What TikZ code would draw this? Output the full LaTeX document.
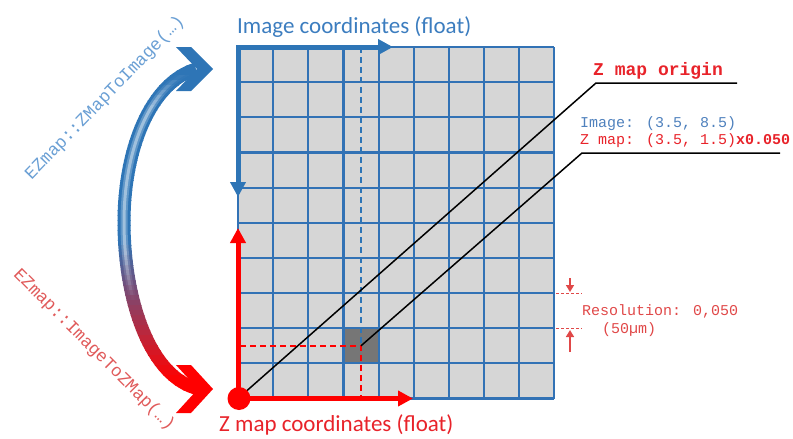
\documentclass[tikz,border=0pt]{standalone}
\usepackage{fontspec}
\setmainfont{Carlito}
\newfontfamily\monofont{Liberation Mono}
\usetikzlibrary{arrows.meta}
\definecolor{axblue}{HTML}{2E75B6}
\definecolor{gridblue}{HTML}{3272B5}
\definecolor{cellgray}{HTML}{D6D6D6}
\definecolor{darkcell}{HTML}{767676}
\definecolor{axred}{HTML}{FF0000}
\definecolor{txtred}{HTML}{E8232A}
\definecolor{lightred}{HTML}{E04848}
\definecolor{txtblue}{HTML}{3C7DBF}
\definecolor{codeblue}{HTML}{4F81BD}
\definecolor{rotblue}{HTML}{6A9FD4}
\definecolor{rotred}{HTML}{E05A5A}
\tikzset{
  gridline/.style={gridblue, line width=2.2pt},
  axisline/.style={line width=5pt, line join=miter, arrows={Triangle[width=15pt,length=15pt]-Triangle[width=15pt,length=15pt]}},
  leader/.style={black, line width=1.5pt},
  dashline/.style={line width=1.5pt, dash pattern=on 6pt off 4pt},
  bigtext/.style={inner sep=0pt, font=\fontsize{23}{26}\selectfont},
  codetext/.style={inner sep=0pt, font=\monofont\fontsize{15}{18}\selectfont},
  rottext/.style={inner sep=0pt, font=\monofont\fontsize{17.5}{20}\selectfont},
  smallarrow/.style={lightred, line width=1.6pt, -{Triangle[width=8pt,length=7pt]}}
}
\def\bandpath{(196,69) .. controls (150,83) and (124,150) .. (124,222) .. controls (124,300) and (150,378) .. (199,389)}
\begin{document}
\begin{tikzpicture}[x=1pt,y=-1pt]
\useasboundingbox (0,0) rectangle (793,439);
% grid
\fill[cellgray] (238,47) rectangle (554.35,398.5);
\fill[darkcell] (343.5,328.2) rectangle (378.6,363.35);
\foreach \gx in {238,273.2,308.3,343.5,378.6,413.8,448.9,484.0,519.2,554.35}
  \draw[gridline] (\gx,47) -- (\gx,398.5);
\foreach \gy in {47,82.15,117.3,152.45,187.6,222.75,257.9,293.05,328.2,363.35,398.5}
  \draw[gridline] (238,\gy) -- (554.35,\gy);
% key coordinates
\coordinate (O) at (238,398.5);
\coordinate (TL) at (238,47);
\coordinate (P) at (361,345.8);
\coordinate (Ptop) at (361,47);
\coordinate (Pbot) at (361,398.5);
\coordinate (Pleft) at (240,345.8);
\coordinate (k1) at (596,83);
\coordinate (k1e) at (737,83);
\coordinate (k2) at (582,153);
\coordinate (k2e) at (780,153);
\coordinate (bluex) at (393,47);
\coordinate (bluey) at (238,197);
\coordinate (redy) at (238,228);
\coordinate (redx) at (413,398.5);
% dashed guides
\draw[dashline, axblue] (Ptop) -- (P);
\draw[dashline, axred] (Pleft) -- (P) -- (Pbot);
% leaders
\draw[leader] (O) -- (k1) -- (k1e);
\draw[leader] (P) -- (k2) -- (k2e);
% axes
\draw[axisline, axblue] (bluex) -- (TL) -- (bluey);
\draw[axisline, axred] (redy) -- (O) -- (redx);
\fill[axred] (239,398.5) circle (11.5pt);
% resolution markers
\coordinate (r1a) at (556,293.05);
\coordinate (r1b) at (582,293.05);
\coordinate (r2a) at (556,328.2);
\coordinate (r2b) at (582,328.2);
\draw[lightred, line width=1pt, dash pattern=on 3pt off 2pt] (r1a) -- (r1b);
\draw[lightred, line width=1pt, dash pattern=on 3pt off 2pt] (r2a) -- (r2b);
\coordinate (da) at (570,278);
\coordinate (db) at (570,292);
\coordinate (ua) at (570,352);
\coordinate (ub) at (570,330);
\draw[smallarrow] (da) -- (db);
\draw[smallarrow] (ua) -- (ub);
% curved band
\foreach \i in {0,...,69}{
  \pgfmathsetmacro\ya{55+5*\i}
  \pgfmathsetmacro\yb{\ya+5.6}
  \pgfmathsetmacro\ym{\ya+2.5}
  \pgfmathsetmacro\pr{max(0,min(100,(\ym-240)/1.4))}
  \pgfmathsetmacro\op{max(0,min(0.4,(\ym-75)/80,(300-\ym)/120))}
  \begin{scope}
    \clip (95,\ya) rectangle (222,\yb);
    \draw[line width=13pt, color=axred!\pr!axblue] \bandpath;
    \draw[line width=7pt, white, opacity=0.6*\op] \bandpath;
    \draw[line width=3pt, white, opacity=\op] \bandpath;
  \end{scope}
}
\fill[axblue] (176,47) -- (191,47) -- (213,69) -- (191,91) -- (176,91) -- (197,69) -- cycle;
\fill[axred] (176,365) -- (191,365) -- (213,389) -- (191,413) -- (176,413) -- (198,389) -- cycle;
% texts
\node[bigtext, txtblue, anchor=base west] (imgc) at (237,33.5) {Image coordinates (float)};
\node[bigtext, txtred, anchor=base west] (zmc) at (219,431) {Z map coordinates (float)};
\node[inner sep=0pt, txtred, font=\monofont\bfseries\fontsize{18}{20}\selectfont, anchor=base west] (zorig) at (593,75) {Z map origin};
\node[codetext, codeblue, anchor=base west] (imgval) at (580,127) {Image: (3.5, 8.5)};
\node[codetext, txtred, anchor=base west] (zval) at (580,144) {Z map: (3.5, 1.5)\textbf{x0.050}};
\node[codetext, lightred, anchor=base west] (res) at (582,315) {Resolution: 0,050};
\node[codetext, lightred, anchor=base west] (resum) at (602,333) {(50µm)};
\node[rottext, rotblue, rotate=46] (f1) at (105,98) {EZmap::ZMapToImage(…)};
\node[rottext, rotred, rotate=-45] (f2) at (94,350) {EZmap::ImageToZMap(…)};
\end{tikzpicture}
\end{document}
